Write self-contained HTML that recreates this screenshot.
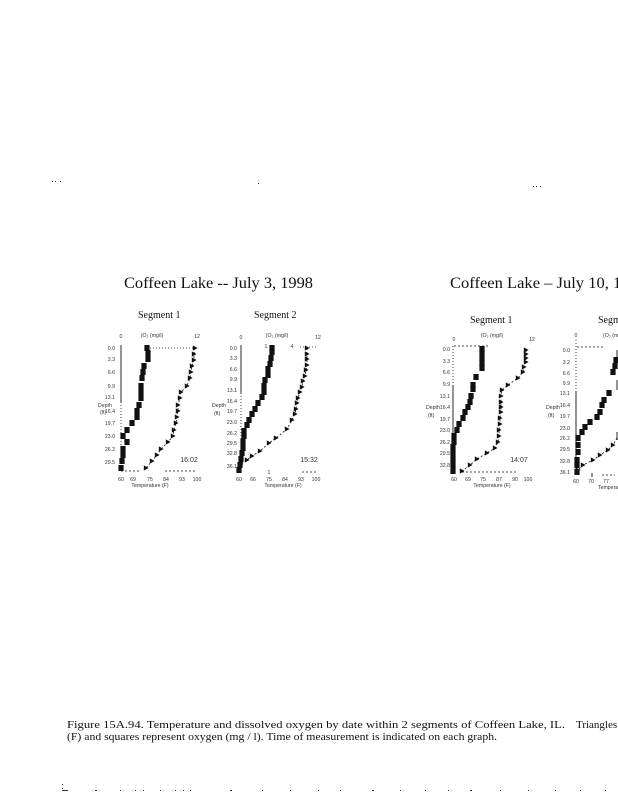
<!DOCTYPE html>
<html>
<head>
<meta charset="utf-8">
<style>
  html,body{margin:0;padding:0;background:#fff;}
  svg{display:block;}
  .ser{font-family:"Liberation Serif",serif;fill:#111;}
  .sm{font-family:"Liberation Sans",sans-serif;font-size:5.2px;fill:#333;}
  .dash{stroke:#111;stroke-width:0.8;stroke-dasharray:2,2;fill:none;}
  .dot{stroke:#111;stroke-width:0.8;stroke-dasharray:1,2;fill:none;}
  .ax{stroke:#111;stroke-width:0.9;fill:none;}
</style>
</head>
<body>
<svg width="618" height="800" viewBox="0 0 618 800" xmlns="http://www.w3.org/2000/svg">
<defs>
  <polygon id="t" points="-2.2,-2.6 2.6,0 -2.2,2.6" fill="#111"/>
  <rect id="s" x="-2.6" y="-3" width="5.2" height="6" fill="#111"/>
</defs>
<rect width="618" height="800" fill="#fff"/>

<!-- stray scan dots -->
<g fill="#333">
  <rect x="52" y="181" width="1" height="1"/><rect x="55" y="181" width="1" height="1"/><rect x="60" y="181" width="1" height="1"/>
  <rect x="258" y="183" width="1" height="1"/>
  <rect x="533" y="186" width="1" height="1"/><rect x="536" y="186" width="1" height="1"/><rect x="540" y="186" width="1" height="1"/>
  <rect x="62" y="784" width="1" height="1"/><rect x="62" y="788" width="1" height="1"/>
  <rect x="62" y="790" width="6" height="1"/><rect x="95" y="790" width="2" height="1"/><rect x="120" y="790" width="1" height="1"/>
  <rect x="135" y="790" width="1" height="1"/><rect x="143" y="790" width="1" height="1"/><rect x="160" y="790" width="1" height="1"/>
  <rect x="175" y="790" width="1" height="1"/><rect x="183" y="790" width="1" height="1"/><rect x="190" y="790" width="1" height="1"/>
  <rect x="230" y="790" width="2" height="1"/><rect x="262" y="790" width="1" height="1"/><rect x="290" y="790" width="1" height="1"/>
  <rect x="318" y="790" width="1" height="1"/><rect x="340" y="790" width="1" height="1"/><rect x="372" y="790" width="2" height="1"/>
  <rect x="400" y="790" width="1" height="1"/><rect x="425" y="790" width="1" height="1"/><rect x="448" y="790" width="1" height="1"/>
  <rect x="470" y="790" width="2" height="1"/><rect x="500" y="790" width="1" height="1"/><rect x="528" y="790" width="1" height="1"/>
  <rect x="555" y="790" width="1" height="1"/><rect x="580" y="790" width="1" height="1"/><rect x="605" y="790" width="1" height="1"/>
</g>

<!-- Titles -->
<text class="ser" x="124" y="288" font-size="16" textLength="189" lengthAdjust="spacingAndGlyphs">Coffeen Lake -- July 3, 1998</text>
<text class="ser" x="450" y="288" font-size="16" textLength="196" lengthAdjust="spacingAndGlyphs">Coffeen Lake – July 10, 1998</text>
<text class="ser" x="138" y="318" font-size="10">Segment 1</text>
<text class="ser" x="254" y="318" font-size="10">Segment 2</text>
<text class="ser" x="470" y="323" font-size="10">Segment 1</text>
<text class="ser" x="598" y="323" font-size="10">Segment 2</text>

<!-- ============ Chart A: July 3 Segment 1 ============ -->
<g>
  <text class="sm" x="121" y="338" text-anchor="middle">0</text>
  <text class="sm" x="152" y="337" text-anchor="middle">(O₂ (mg/l)</text>
  <text class="sm" x="197" y="338" text-anchor="middle">12</text>
  <line class="dot" x1="150" y1="348" x2="197" y2="348"/>
  <line class="ax" x1="121" y1="345" x2="121" y2="402"/>
  <line class="dot" x1="121" y1="402" x2="121" y2="470"/>
  <g class="sm" text-anchor="end">
    <text x="115" y="350">0.0</text><text x="115" y="361">3.3</text><text x="115" y="374">6.6</text>
    <text x="115" y="388">9.9</text><text x="115" y="399">13.1</text><text x="115" y="413">16.4</text>
    <text x="115" y="425">19.7</text><text x="115" y="438">23.0</text><text x="115" y="451">26.2</text>
    <text x="115" y="464">29.5</text>
  </g>
  <text class="sm" x="98" y="407">Depth</text>
  <text class="sm" x="100" y="414">(ft)</text>
  <line class="dash" x1="121" y1="471" x2="140" y2="471"/>
  <line class="dash" x1="165" y1="471" x2="197" y2="471"/>
  <g class="sm" text-anchor="middle">
    <text x="121" y="481">60</text><text x="133" y="481">69</text><text x="150" y="481">75</text>
    <text x="166" y="481">84</text><text x="182" y="481">93</text><text x="197" y="481">100</text>
    <text x="150" y="487">Temperature (F)</text>
    <text x="189" y="462" font-size="7">16:02</text>
  </g>
  <polyline class="dash" points="195,348 194,354 194,360 192,366 191,372 190,378 187,386 181,392 180,398 178,405 178,411 177,417 176,423 174,430 173,436 168,442 161,449 157,455 152,461 146,468"/>
  <g>
    <use href="#t" x="195" y="348"/><use href="#t" x="194" y="354"/><use href="#t" x="194" y="360"/><use href="#t" x="192" y="366"/>
    <use href="#t" x="191" y="372"/><use href="#t" x="190" y="378"/><use href="#t" x="187" y="386"/><use href="#t" x="181" y="392"/>
    <use href="#t" x="180" y="398"/><use href="#t" x="178" y="405"/><use href="#t" x="178" y="411"/><use href="#t" x="177" y="417"/>
    <use href="#t" x="176" y="423"/><use href="#t" x="174" y="430"/><use href="#t" x="173" y="436"/><use href="#t" x="168" y="442"/>
    <use href="#t" x="161" y="449"/><use href="#t" x="157" y="455"/><use href="#t" x="152" y="461"/><use href="#t" x="146" y="468"/>
  </g>
  <g>
    <use href="#s" x="147" y="348"/><use href="#s" x="148" y="353"/><use href="#s" x="148" y="359"/><use href="#s" x="144" y="366"/>
    <use href="#s" x="143" y="372"/><use href="#s" x="142" y="378"/><use href="#s" x="141" y="386"/><use href="#s" x="141" y="392"/>
    <use href="#s" x="141" y="398"/><use href="#s" x="139" y="405"/><use href="#s" x="137" y="411"/><use href="#s" x="137" y="417"/>
    <use href="#s" x="132" y="423"/><use href="#s" x="127" y="430"/><use href="#s" x="123" y="436"/><use href="#s" x="127" y="442"/>
    <use href="#s" x="123" y="449"/><use href="#s" x="123" y="455"/><use href="#s" x="122" y="461"/><use href="#s" x="121" y="468"/>
  </g>
</g>

<!-- ============ Chart B: July 3 Segment 2 ============ -->
<g>
  <text class="sm" x="241" y="339" text-anchor="middle">0</text>
  <text class="sm" x="277" y="337" text-anchor="middle">(O₂ (mg/l)</text>
  <text class="sm" x="318" y="339" text-anchor="middle">12</text>
  <text class="sm" x="266" y="348" text-anchor="middle">1</text>
  <text class="sm" x="292" y="348" text-anchor="middle">4</text>
  <line class="dot" x1="300" y1="347" x2="318" y2="347"/>
  <line class="ax" x1="241" y1="345" x2="241" y2="393"/>
  <line class="dot" x1="241" y1="393" x2="241" y2="470"/>
  <g class="sm" text-anchor="end">
    <text x="237" y="350">0.0</text><text x="237" y="360">3.3</text><text x="237" y="371">6.6</text>
    <text x="237" y="381">9.9</text><text x="237" y="392">13.1</text><text x="237" y="403">16.4</text>
    <text x="237" y="413">19.7</text><text x="237" y="424">23.0</text><text x="237" y="435">26.2</text>
    <text x="237" y="445">29.5</text><text x="237" y="455">32.8</text><text x="237" y="468">36.1</text>
  </g>
  <text class="sm" x="212" y="407">Depth</text>
  <text class="sm" x="214" y="415">(ft)</text>
  <text class="sm" x="269" y="474" text-anchor="middle">1</text>
  <line class="dash" x1="302" y1="472" x2="317" y2="472"/>
  <g class="sm" text-anchor="middle">
    <text x="239" y="481">60</text><text x="253" y="481">66</text><text x="269" y="481">75</text>
    <text x="285" y="481">84</text><text x="301" y="481">93</text><text x="316" y="481">100</text>
    <text x="283" y="487">Temperature (F)</text>
    <text x="309" y="462" font-size="7">15:32</text>
  </g>
  <polyline class="dash" points="307,348 307,354 307,359 307,365 306,370 305,376 303,381 302,387 300,392 298,398 297,403 296,409 295,414 292,420 287,429 276,438 269,443 260,451 252,456 247,460 241,464"/>
  <g>
    <use href="#t" x="307" y="348"/><use href="#t" x="307" y="354"/><use href="#t" x="307" y="359"/><use href="#t" x="307" y="365"/>
    <use href="#t" x="306" y="370"/><use href="#t" x="305" y="376"/><use href="#t" x="303" y="381"/><use href="#t" x="302" y="387"/>
    <use href="#t" x="300" y="392"/><use href="#t" x="298" y="398"/><use href="#t" x="297" y="403"/><use href="#t" x="296" y="409"/>
    <use href="#t" x="295" y="414"/><use href="#t" x="292" y="420"/><use href="#t" x="287" y="429"/><use href="#t" x="276" y="438"/>
    <use href="#t" x="269" y="443"/><use href="#t" x="260" y="451"/><use href="#t" x="252" y="456"/><use href="#t" x="247" y="460"/>
    <use href="#t" x="241" y="464"/>
  </g>
  <g>
    <use href="#s" x="272" y="348"/><use href="#s" x="272" y="352"/><use href="#s" x="271" y="358"/><use href="#s" x="270" y="364"/>
    <use href="#s" x="268" y="369"/><use href="#s" x="268" y="375"/><use href="#s" x="265" y="380"/><use href="#s" x="264" y="386"/>
    <use href="#s" x="264" y="392"/><use href="#s" x="262" y="397"/><use href="#s" x="258" y="403"/><use href="#s" x="255" y="409"/>
    <use href="#s" x="252" y="414"/><use href="#s" x="249" y="420"/><use href="#s" x="247" y="425"/><use href="#s" x="244" y="431"/>
    <use href="#s" x="244" y="436"/><use href="#s" x="243" y="442"/><use href="#s" x="243" y="448"/><use href="#s" x="242" y="453"/>
    <use href="#s" x="241" y="459"/><use href="#s" x="240" y="465"/><use href="#s" x="239" y="470"/>
  </g>
</g>

<!-- ============ Chart C: July 10 Segment 1 ============ -->
<g>
  <text class="sm" x="454" y="341" text-anchor="middle">0</text>
  <text class="sm" x="492" y="337" text-anchor="middle">(O₂ (mg/l)</text>
  <text class="sm" x="532" y="341" text-anchor="middle">12</text>
  <line class="dash" x1="454" y1="346" x2="490" y2="346"/>
  <line class="dot" x1="453" y1="346" x2="453" y2="385"/>
  <line class="ax" x1="453" y1="385" x2="453" y2="472"/>
  <g class="sm" text-anchor="end">
    <text x="450" y="351">0.0</text><text x="450" y="363">3.3</text><text x="450" y="374">6.6</text>
    <text x="450" y="386">9.9</text><text x="450" y="398">13.1</text><text x="450" y="409">16.4</text>
    <text x="450" y="421">19.7</text><text x="450" y="432">23.0</text><text x="450" y="444">26.2</text>
    <text x="450" y="455">29.5</text><text x="450" y="467">32.8</text>
  </g>
  <text class="sm" x="426" y="409">Depth</text>
  <text class="sm" x="428" y="417">(ft)</text>
  <line class="dash" x1="462" y1="472" x2="517" y2="472"/>
  <g class="sm" text-anchor="middle">
    <text x="454" y="481">60</text><text x="468" y="481">69</text><text x="483" y="481">75</text>
    <text x="499" y="481">87</text><text x="515" y="481">90</text><text x="528" y="481">100</text>
    <text x="492" y="487">Temperature (F)</text>
    <text x="519" y="462" font-size="7">14:07</text>
  </g>
  <polyline class="dash" points="526,350 526,354 526,358 526,362 524,367 523,372 518,378 508,385 502,390 501,396 501,402 501,407 501,412 500,418 500,424 499,430 499,436 498,442 495,448 487,453 477,459 470,465 462,471"/>
  <g>
    <use href="#t" x="526" y="350"/><use href="#t" x="526" y="354"/><use href="#t" x="526" y="358"/><use href="#t" x="526" y="362"/>
    <use href="#t" x="524" y="367"/><use href="#t" x="523" y="372"/><use href="#t" x="518" y="378"/><use href="#t" x="508" y="385"/>
    <use href="#t" x="502" y="390"/><use href="#t" x="501" y="396"/><use href="#t" x="501" y="402"/><use href="#t" x="501" y="407"/>
    <use href="#t" x="501" y="412"/><use href="#t" x="500" y="418"/><use href="#t" x="500" y="424"/><use href="#t" x="499" y="430"/>
    <use href="#t" x="499" y="436"/><use href="#t" x="498" y="442"/><use href="#t" x="495" y="448"/><use href="#t" x="487" y="453"/>
    <use href="#t" x="477" y="459"/><use href="#t" x="470" y="465"/><use href="#t" x="462" y="471"/>
  </g>
  <g>
    <use href="#s" x="482" y="349"/><use href="#s" x="482" y="353"/><use href="#s" x="482" y="358"/><use href="#s" x="482" y="363"/>
    <use href="#s" x="482" y="368"/><use href="#s" x="476" y="377"/><use href="#s" x="473" y="385"/><use href="#s" x="473" y="389"/>
    <use href="#s" x="471" y="396"/><use href="#s" x="470" y="402"/><use href="#s" x="468" y="407"/><use href="#s" x="465" y="412"/>
    <use href="#s" x="463" y="418"/><use href="#s" x="459" y="424"/><use href="#s" x="457" y="430"/><use href="#s" x="454" y="436"/>
    <use href="#s" x="454" y="442"/><use href="#s" x="453" y="447"/><use href="#s" x="453" y="453"/><use href="#s" x="453" y="459"/>
    <use href="#s" x="453" y="465"/><use href="#s" x="453" y="471"/>
  </g>
</g>

<!-- ============ Chart D: July 10 Segment 2 (clipped) ============ -->
<g>
  <text class="sm" x="576" y="337" text-anchor="middle">0</text>
  <text class="sm" x="603" y="337">(O₂ (mg/l)</text>
  <line class="dash" x1="577" y1="347" x2="603" y2="347"/>
  <line class="dot" x1="576" y1="340" x2="576" y2="392"/>
  <line class="ax" x1="576" y1="392" x2="576" y2="473"/>
  <g class="sm" text-anchor="end">
    <text x="570" y="352">0.0</text><text x="570" y="364">3.2</text><text x="570" y="375">6.6</text>
    <text x="570" y="385">9.9</text><text x="570" y="395">13.1</text><text x="570" y="407">16.4</text>
    <text x="570" y="418">19.7</text><text x="570" y="430">23.0</text><text x="570" y="440">26.2</text>
    <text x="570" y="451">29.5</text><text x="570" y="463">32.8</text><text x="570" y="474">36.1</text>
  </g>
  <text class="sm" x="546" y="409">Depth</text>
  <text class="sm" x="548" y="417">(ft)</text>
  <line class="ax" x1="592" y1="473" x2="592" y2="477"/>
  <line class="dash" x1="602" y1="475" x2="615" y2="475"/>
  <g class="sm" text-anchor="middle">
    <text x="576" y="483">60</text><text x="591" y="483">70</text><text x="606" y="483">77</text>
  </g>
  <text class="sm" x="598" y="489">Temperature (F)</text>
  <line class="ax" x1="617" y1="350" x2="617" y2="362"/>
  <line class="ax" x1="617" y1="380" x2="617" y2="390"/>
  <line class="ax" x1="617" y1="432" x2="617" y2="440"/>
  <polyline class="dash" points="617,438 613,445 608,450 600,455 593,460 583,465 578,470"/>
  <g>
    <use href="#t" x="613" y="445"/><use href="#t" x="608" y="450"/><use href="#t" x="600" y="455"/>
    <use href="#t" x="593" y="460"/><use href="#t" x="583" y="465"/><use href="#t" x="578" y="470"/>
  </g>
  <g>
    <use href="#s" x="616" y="360"/><use href="#s" x="615" y="366"/><use href="#s" x="613" y="372"/>
    <use href="#s" x="609" y="393"/><use href="#s" x="604" y="400"/><use href="#s" x="602" y="405"/><use href="#s" x="600" y="412"/>
    <use href="#s" x="597" y="417"/><use href="#s" x="590" y="422"/><use href="#s" x="585" y="427"/><use href="#s" x="582" y="432"/>
    <use href="#s" x="578" y="438"/><use href="#s" x="578" y="445"/><use href="#s" x="578" y="452"/><use href="#s" x="577" y="460"/>
    <use href="#s" x="577" y="465"/><use href="#s" x="577" y="472"/>
  </g>
</g>

<!-- Caption -->
<text class="ser" x="67" y="728" font-size="11" textLength="498" lengthAdjust="spacingAndGlyphs">Figure 15A.94. Temperature and dissolved oxygen by date within 2 segments of Coffeen Lake, IL.</text>
<text class="ser" x="576" y="728" font-size="11">Triangles represent temperature</text>
<text class="ser" x="67" y="740" font-size="11" textLength="430" lengthAdjust="spacingAndGlyphs">(F)  and squares represent oxygen (mg / l). Time of measurement is indicated on each graph.</text>
</svg>
</body>
</html>
